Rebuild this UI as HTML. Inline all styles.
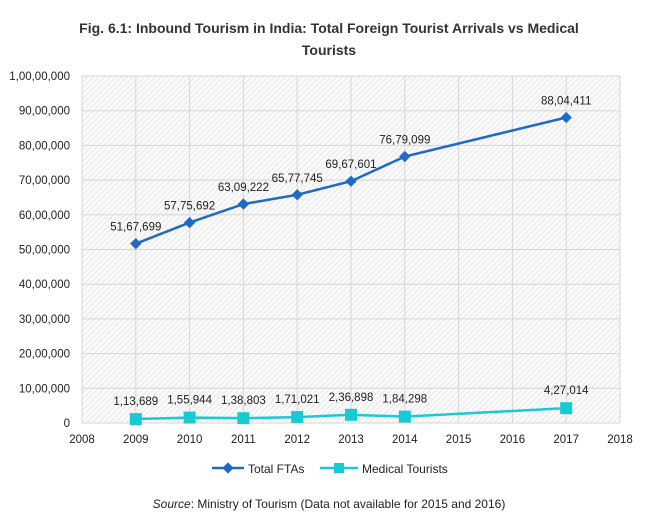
<!DOCTYPE html>
<html><head><meta charset="utf-8"><style>
body{margin:0;background:#fff;font-family:"Liberation Sans","DejaVu Sans",sans-serif;}
svg text{font-family:"Liberation Sans","DejaVu Sans",sans-serif;}
</style></head><body>
<svg width="658" height="518" xmlns="http://www.w3.org/2000/svg">
<defs>
<pattern id="hatch" width="4" height="4" patternUnits="userSpaceOnUse" patternTransform="rotate(45)">
<rect width="4" height="4" fill="#fafafa"/>
<line x1="0" y1="0" x2="0" y2="4" stroke="#dcdcdc" stroke-width="1.2"/>
</pattern>
</defs>
<text x="329" y="33" text-anchor="middle" font-size="14" font-weight="bold" fill="#333">Fig. 6.1: Inbound Tourism in India: Total Foreign Tourist Arrivals vs Medical</text>
<text x="329" y="55" text-anchor="middle" font-size="14" font-weight="bold" fill="#333">Tourists</text>
<rect x="82" y="76" width="538" height="347" fill="url(#hatch)"/>
<g id="grid"></g>
<g id="marks"></g>
<g transform="translate(212,468)">
<g>
<line x1="0" y1="0" x2="32" y2="0" stroke="#1f6bc4" stroke-width="2.5"/>
<rect x="12" y="-4" width="8" height="8" fill="#1f6bc4" transform="rotate(45 16 0)"/>
<text x="36" y="5" font-size="12" fill="#222">Total FTAs</text></g>
<g>
<line x1="108" y1="0" x2="146" y2="0" stroke="#19c9d4" stroke-width="2.5"/>
<rect x="122" y="-5" width="10" height="10" fill="#19c9d4"/>
<text x="150" y="5" font-size="12" fill="#222">Medical Tourists</text></g>
</g>
<text x="329" y="508" text-anchor="middle" font-size="12" fill="#222"><tspan font-style="italic">Source</tspan>: Ministry of Tourism (Data not available for 2015 and 2016)</text>
</svg>
<script>
const years=[2009,2010,2011,2012,2013,2014,2017];
const ftas=[5167699,5775692,6309222,6577745,6967601,7679099,8804411];
const ftaLabels=["51,67,699","57,75,692","63,09,222","65,77,745","69,67,601","76,79,099","88,04,411"];
const medical=[113689,155944,138803,171021,236898,184298,427014];
const medLabels=["1,13,689","1,55,944","1,38,803","1,71,021","2,36,898","1,84,298","4,27,014"];
const yTicks=[0,1000000,2000000,3000000,4000000,5000000,6000000,7000000,8000000,9000000,10000000];
const yTickLabels=["0","10,00,000","20,00,000","30,00,000","40,00,000","50,00,000","60,00,000","70,00,000","80,00,000","90,00,000","1,00,00,000"];
const xTicks=[2008,2009,2010,2011,2012,2013,2014,2015,2016,2017,2018];
const NS="http://www.w3.org/2000/svg";
const X=v=>82+(v-2008)*53.8;
const Y=v=>423-v/10000000*347;
function mk(t,a,p){const e=document.createElementNS(NS,t);for(const k in a)e.setAttribute(k,a[k]);p.appendChild(e);return e;}
const g=document.getElementById('grid'),m=document.getElementById('marks');
yTicks.forEach((v,i)=>{
 const l=mk('line',{x1:82,x2:620,y1:Y(v),y2:Y(v),stroke:'#d6d6d6','stroke-width':1},g);
 
 
 const t=mk('text',{x:70,y:Y(v)+4,'text-anchor':'end','font-size':11.5,fill:'#222'},g);t.textContent=yTickLabels[i];
 
 
});
xTicks.forEach(v=>{
 const l=mk('line',{x1:X(v),x2:X(v),y1:76,y2:423,stroke:'#d6d6d6','stroke-width':1},g);
 
 
 const t=mk('text',{x:X(v),y:443,'text-anchor':'middle','font-size':11.5,fill:'#222'},g);t.textContent=v;
 
 
});
function series(vals,labels,color,shape,name){
 const p=mk('polyline',{points:years.map((y,i)=>X(y)+','+Y(vals[i])).join(' '),fill:'none',stroke:color,'stroke-width':2.5},m);
 
 
 years.forEach((y,i)=>{
  const cx=X(y),cy=Y(vals[i]);let e;
  if(shape==='d')e=mk('rect',{x:cx-4,y:cy-4,width:8,height:8,fill:color,transform:`rotate(45 ${cx} ${cy})`},m);
  else e=mk('rect',{x:cx-6,y:cy-6,width:12,height:12,fill:color},m);
  
  
  const t=mk('text',{x:cx,y:shape==='d'?cy-13:cy-14,'text-anchor':'middle','font-size':11.5,fill:'#222'},m);t.textContent=labels[i];
  
  
 });
}
series(ftas,ftaLabels,'#1f6bc4','d','total-ftas');
series(medical,medLabels,'#19c9d4','s','medical-tourists');
</script>
</body></html>
